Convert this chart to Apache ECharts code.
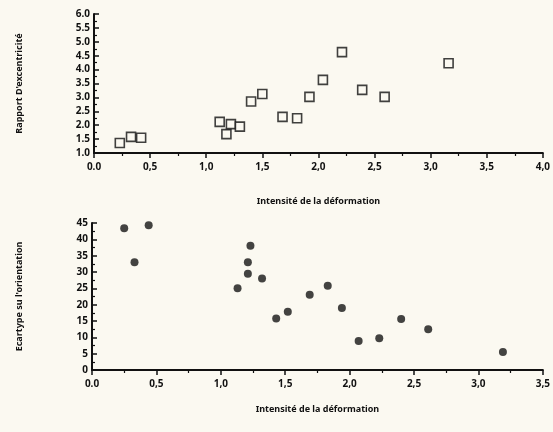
<!DOCTYPE html>
<html><head><meta charset="utf-8">
<script src="https://cdn.jsdelivr.net/npm/echarts@6/dist/echarts.min.js"></script>
<style>html,body{margin:0;padding:0;background:#fbf9f1;}#c{width:553px;height:432px;}</style>
</head><body><div id="c"></div>
<script>
// Top panel: eccentricity ratio vs deformation intensity
const topX = [0.23, 0.33, 0.42, 1.12, 1.18, 1.22, 1.30, 1.40, 1.50, 1.68, 1.81, 1.92, 2.04, 2.21, 2.39, 2.59, 3.16];
const topY = [1.36, 1.58, 1.55, 2.12, 1.68, 2.04, 1.95, 2.85, 3.12, 2.30, 2.25, 3.02, 3.63, 4.63, 3.27, 3.02, 4.23];
// Bottom panel: standard deviation of orientation vs deformation intensity
const botX = [0.25, 0.33, 0.44, 1.13, 1.21, 1.21, 1.23, 1.32, 1.43, 1.52, 1.69, 1.83, 1.94, 2.07, 2.23, 2.40, 2.61, 3.19];
const botY = [43.4, 33, 44.3, 25, 29.5, 33, 38, 28, 15.8, 17.8, 23, 25.8, 19, 8.9, 9.7, 15.6, 12.5, 5.5];
const xName = "Intensité de la déformation";
const topYName = "Rapport D'excentricité";
const botYName = "Ecartype su l'orientation";

const FONT = "Noto Sans";
function xFmt(v){ return v === 0 ? "0.0" : v.toFixed(1).replace('.', ','); }
function yFmt1(v){ return v.toFixed(1); }

const axisLine = {lineStyle:{color:'#111', width:2}};
const chart = echarts.init(document.getElementById('c'));
function xAxis(gi, max, gap){
  return {type:'value', gridIndex:gi, min:0, max:max, interval:0.5,
    name:xName, nameLocation:'middle', nameGap:gap,
    nameTextStyle:{color:'#111', fontFamily:FONT, fontSize:9, fontWeight:'bold'},
    axisLine:axisLine, axisTick:{show:true, inside:false, length:5, lineStyle:{color:'#111', width:1.5}},
    minorTick:{show:true, splitNumber:2, length:3, lineStyle:{color:'#111', width:1.2}},
    splitLine:{show:false},
    axisLabel:{formatter:xFmt, color:'#111', fontFamily:FONT, fontSize:10, fontWeight:'bold', margin:9}};
}
function yAxis(gi, min, max, interval, name, fmt, gap){
  return {type:'value', gridIndex:gi, min:min, max:max, interval:interval,
    name:name, nameLocation:'middle', nameGap:gap,
    nameTextStyle:{color:'#111', fontFamily:FONT, fontSize:9, fontWeight:'bold'},
    axisLine:axisLine, axisTick:{show:true, inside:true, length:5, lineStyle:{color:'#111', width:1.5}},
    minorTick:{show:true, splitNumber:2, length:3, lineStyle:{color:'#111', width:1.2}},
    splitLine:{show:false},
    axisLabel:{formatter:fmt, color:'#111', fontFamily:FONT, fontSize:10, fontWeight:'bold', margin:4}};
}
chart.setOption({
  backgroundColor:'#fbf9f1',
  animation:false,
  grid:[
    {left:94, right:9, top:14, height:139},
    {left:92, right:5, top:223, height:147}
  ],
  xAxis:[xAxis(0, 4, 44), xAxis(1, 3.5, 35)],
  yAxis:[yAxis(0, 1, 6, 0.5, topYName, yFmt1, 70), yAxis(1, 0, 45, 5, botYName, v=>String(v), 68)],
  series:[
    {type:'scatter', xAxisIndex:0, yAxisIndex:0, data:topX.map((x,i)=>[x, topY[i]]),
     symbol:'rect', symbolSize:9, itemStyle:{color:'#fbf9f1', borderColor:'#111', borderWidth:1.6}},
    {type:'scatter', xAxisIndex:1, yAxisIndex:1, data:botX.map((x,i)=>[x, botY[i]]),
     symbol:'circle', symbolSize:8, itemStyle:{color:'#151515'}}
  ]
});
</script></body></html>
